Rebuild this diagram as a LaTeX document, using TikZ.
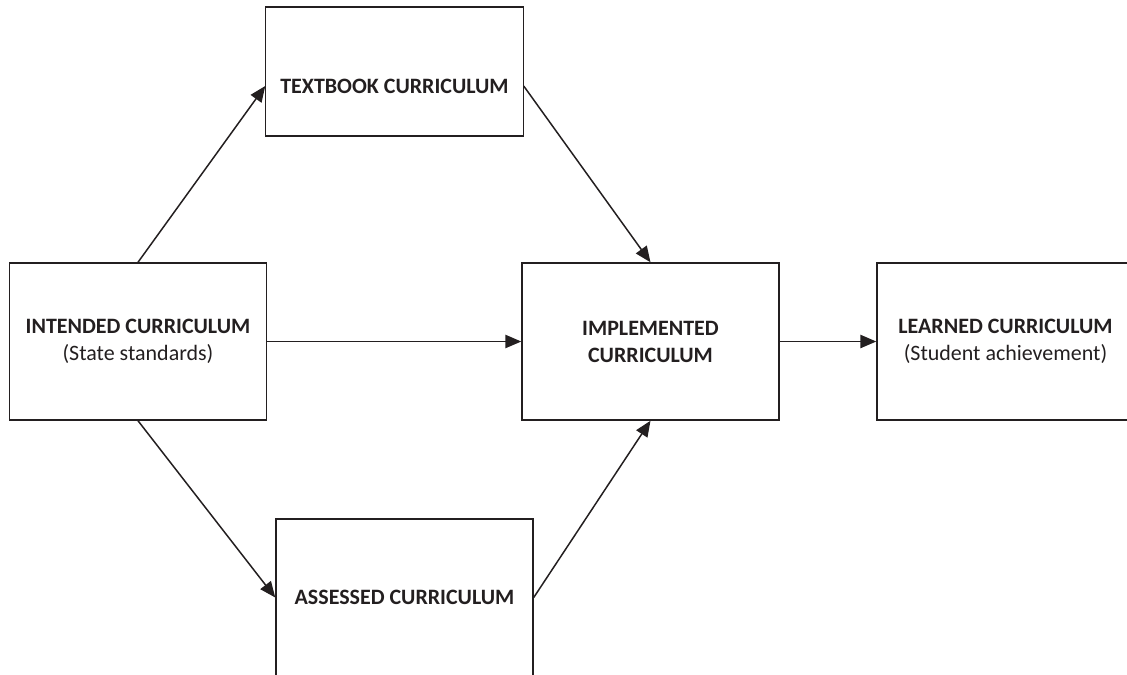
\documentclass[tikz,border=0pt]{standalone}
\usepackage{fontspec}
\setmainfont{Carlito}
\usepackage{xcolor}
\usepackage{tikz}
\usetikzlibrary{positioning,arrows.meta}

\definecolor{ink}{HTML}{231F20}

\begin{document}
\begin{tikzpicture}[x=0.02cm, y=-0.02cm,
	box/.style={draw=ink, line width=0.85pt, rectangle, inner sep=0pt, align=center,
		minimum width=5.14cm, minimum height=3.14cm, text=ink,
		font=\fontsize{12.5}{15.4}\selectfont},
	flow/.style={draw=ink, line width=0.85pt, -{Triangle[length=9pt, width=7.5pt]}}]
	\useasboundingbox (0,0) rectangle (1127,674);
	\clip (0,0) rectangle (1127,674);
	% boxes
	\node[box] (intended) at (138,341.5) {\textbf{INTENDED CURRICULUM}\\(State standards)};
	\node[box, draw=none, minimum height=0pt] (textbook) at (394.5,86) {\textbf{TEXTBOOK CURRICULUM}};
	\draw[ink, line width=0.85pt] (textbook.west |- 0,7) rectangle (textbook.east |- 0,136);
	\node[box] (implemented) at (650.5,341.5) {\textbf{IMPLEMENTED}\\\textbf{CURRICULUM}};
	\node[box] (assessed) at (404.5,597.5) {\textbf{ASSESSED CURRICULUM}};
	\node[box] (learned) at (1005.5,341.5) {\textbf{LEARNED CURRICULUM}\\(Student achievement)};
	% arrows
	\draw[flow] (intended.north) -- (textbook.west);
	\draw[flow] (intended.east) -- (implemented.west);
	\draw[flow] (intended.south) -- (assessed.west);
	\draw[flow] (textbook.east) -- (implemented.north);
	\draw[flow] (assessed.east) -- (implemented.south);
	\draw[flow] (implemented.east) -- (learned.west);
\end{tikzpicture}
\end{document}
